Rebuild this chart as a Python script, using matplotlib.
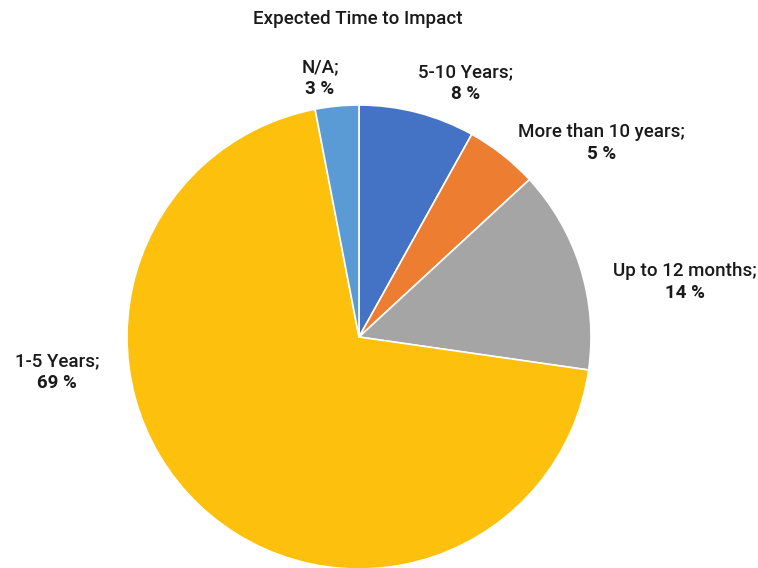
import matplotlib
matplotlib.use("Agg")
import matplotlib.pyplot as plt

categories = ["5-10 Years", "More than 10 years", "Up to 12 months", "1-5 Years", "N/A"]
shares = [8, 5, 14, 69, 3]
colors = ["#4472C4", "#ED7D31", "#A5A5A5", "#FCC00D", "#5B9BD5"]
title = "Expected Time to Impact"

# label anchor positions (in pie radius units)
label_pos = [(0.461, 1.095), (1.047, 0.836), (1.405, 0.237), (-1.302, -0.151), (-0.168, 1.116)]

plt.rcParams["font.family"] = ["Roboto", "DejaVu Sans"]
W, H = 758, 568
fig = plt.figure(figsize=(W / 100, H / 100), dpi=100)
fig.patch.set_facecolor("white")

cx, cy, r = 359, 568 - 337, 232
ax = fig.add_axes([(cx - r) / W, (cy - r) / H, 2 * r / W, 2 * r / H])

wedges, _ = ax.pie(shares, colors=colors, startangle=90, counterclock=False,
                   radius=1, wedgeprops=dict(edgecolor="white", linewidth=1.2))
ax.set_xlim(-1, 1)
ax.set_ylim(-1, 1)
ax.axis("off")
for w in wedges:
    w.set_clip_on(False)

txt_color = "#1a1a1a"
fs = 13.5
dy = 11 / r
for cat, val, (x, y) in zip(categories, shares, label_pos):
    ax.text(x, y + dy, f"{cat};", ha="center", va="center", fontsize=fs,
            fontweight="medium", color=txt_color, clip_on=False)
    ax.text(x, y - dy, f"{val} %", ha="center", va="center", fontsize=fs,
            fontweight="bold", color=txt_color, clip_on=False)

fig.text(358 / W, 1 - 19 / H, title, ha="center", va="center", fontsize=fs,
         fontweight="medium", color=txt_color)

fig.savefig("out.png", dpi=100)
